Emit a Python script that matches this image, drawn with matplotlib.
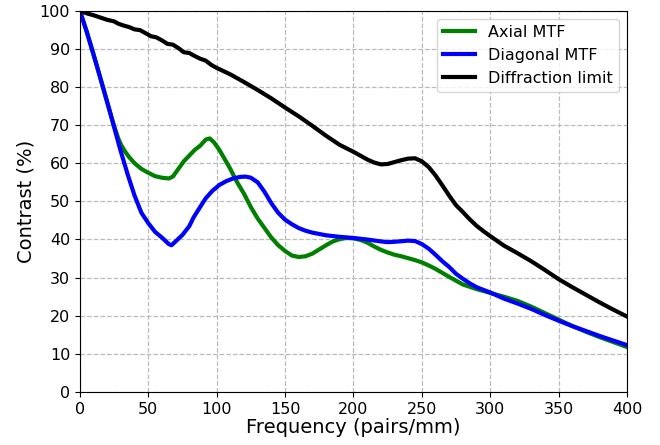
import matplotlib
matplotlib.use("Agg")
import matplotlib.pyplot as plt

# Axial MTF (green)
axial_x = [0, 5, 10, 15, 20, 25, 28, 30, 33, 36, 40, 45, 50, 55, 60, 65, 68, 72, 76, 80,
           84, 88, 92, 95, 98, 102, 106, 110, 115, 120, 125, 130, 135, 140, 145, 150, 155,
           160, 165, 170, 175, 180, 185, 190, 195, 200, 205, 210, 215, 220, 225, 230, 235,
           240, 245, 250, 255, 260, 270, 280, 290, 300, 310, 320, 330, 340, 350, 360, 370,
           380, 390, 400]
axial_y = [100, 94.5, 88.5, 82.3, 76, 69.8, 66.6, 64.9, 63.1, 61.6, 60.0, 58.5, 57.5,
           56.6, 56.2, 56.0, 56.5, 58.5, 60.5, 62, 63.5, 64.6, 66.2, 66.5, 65.5, 63.5, 61,
           58.5, 55, 52, 48.5, 45.5, 43, 40.5, 38.5, 37, 35.8, 35.4, 35.6, 36.3, 37.4, 38.5,
           39.5, 40.1, 40.4, 40.3, 39.9, 39.2, 38.2, 37.3, 36.6, 36.0, 35.6, 35.1, 34.6,
           34.0, 33.2, 32.3, 30.2, 28.2, 27, 26, 25, 23.9, 22.4, 20.7, 19.0, 17.3, 15.8,
           14.4, 13.1, 11.8]

# Diagonal MTF (blue)
diag_x = [0, 5, 10, 15, 20, 25, 30, 35, 40, 45, 50, 55, 60, 65, 67, 70, 75, 80, 83, 87,
          92, 97, 102, 107, 112, 117, 121, 125, 130, 135, 140, 145, 150, 155, 160, 165,
          170, 180, 190, 200, 210, 220, 225, 230, 240, 245, 250, 255, 260, 265, 270, 275,
          280, 285, 290, 300, 310, 320, 330, 340, 350, 360, 370, 380, 390, 400]
diag_y = [100, 94.5, 88.5, 82.3, 76, 69.5, 63, 57, 51.5, 47, 44.3, 42, 40.5, 38.8, 38.5,
          39.5, 41.2, 43.5, 45.7, 48, 50.8, 52.8, 54.3, 55.3, 56, 56.4, 56.5, 56.2, 55,
          52.5, 49.5, 47, 45.2, 44, 43, 42.3, 41.8, 41.1, 40.7, 40.4, 40.0, 39.5, 39.3,
          39.4, 39.7, 39.6, 38.8, 37.6, 36, 34.3, 32.8, 31, 29.7, 28.5, 27.5, 26.1, 24.5,
          23.2, 21.8, 20.2, 18.7, 17.3, 16, 14.7, 13.5, 12.3]

# Diffraction limit (black)
diff_x = [0, 5, 10, 15, 20, 25, 28, 32, 36, 40, 44, 48, 52, 56, 60, 64, 68, 72, 76, 80,
          84, 88, 92, 96, 100, 110, 120, 130, 140, 150, 160, 170, 180, 190, 200, 205, 210,
          215, 220, 225, 230, 235, 240, 245, 250, 255, 260, 265, 270, 275, 280, 285, 290,
          295, 300, 310, 320, 330, 340, 350, 360, 370, 380, 390, 400]
diff_y = [100, 99.3, 98.8, 98.2, 97.6, 97.2, 96.6, 96.1, 95.7, 95.1, 94.9, 94.1, 93.3,
          93.0, 92.2, 91.3, 91.1, 90.2, 89.1, 88.9, 88.1, 87.4, 86.9, 85.8, 85.0, 83.3,
          81.3, 79.2, 77.0, 74.6, 72.3, 69.8, 67.2, 64.8, 63, 62, 61, 60.2, 59.7, 59.8,
          60.3, 60.8, 61.2, 61.3, 60.5, 59, 56.8, 54.2, 51.5, 49, 47.2, 45.3, 43.6, 42.2,
          40.9, 38.4, 36.4, 34.3, 32, 29.6, 27.5, 25.5, 23.5, 21.6, 19.8]

fig, ax = plt.subplots(figsize=(6.6, 4.45), dpi=100)
fig.subplots_adjust(left=0.121, right=0.95, top=0.976, bottom=0.119)

ax.plot(axial_x, axial_y, color="green", lw=3, label="Axial MTF")
ax.plot(diag_x, diag_y, color="blue", lw=3, label="Diagonal MTF")
ax.plot(diff_x, diff_y, color="black", lw=3, label="Diffraction limit")

ax.set_xlim(0, 400)
ax.set_ylim(0, 100)
ax.set_xticks(range(0, 401, 50))
ax.set_yticks(range(0, 101, 10))
ax.tick_params(labelsize=11.5)
ax.set_xlabel("Frequency (pairs/mm)", fontsize=14, labelpad=1)
ax.set_ylabel("Contrast (%)", fontsize=14, labelpad=3)
ax.grid(True, linestyle="--", color="#bbbbbb", lw=0.9)
ax.legend(loc="upper right", fontsize=11.5)

fig.savefig("out.png", dpi=100)
